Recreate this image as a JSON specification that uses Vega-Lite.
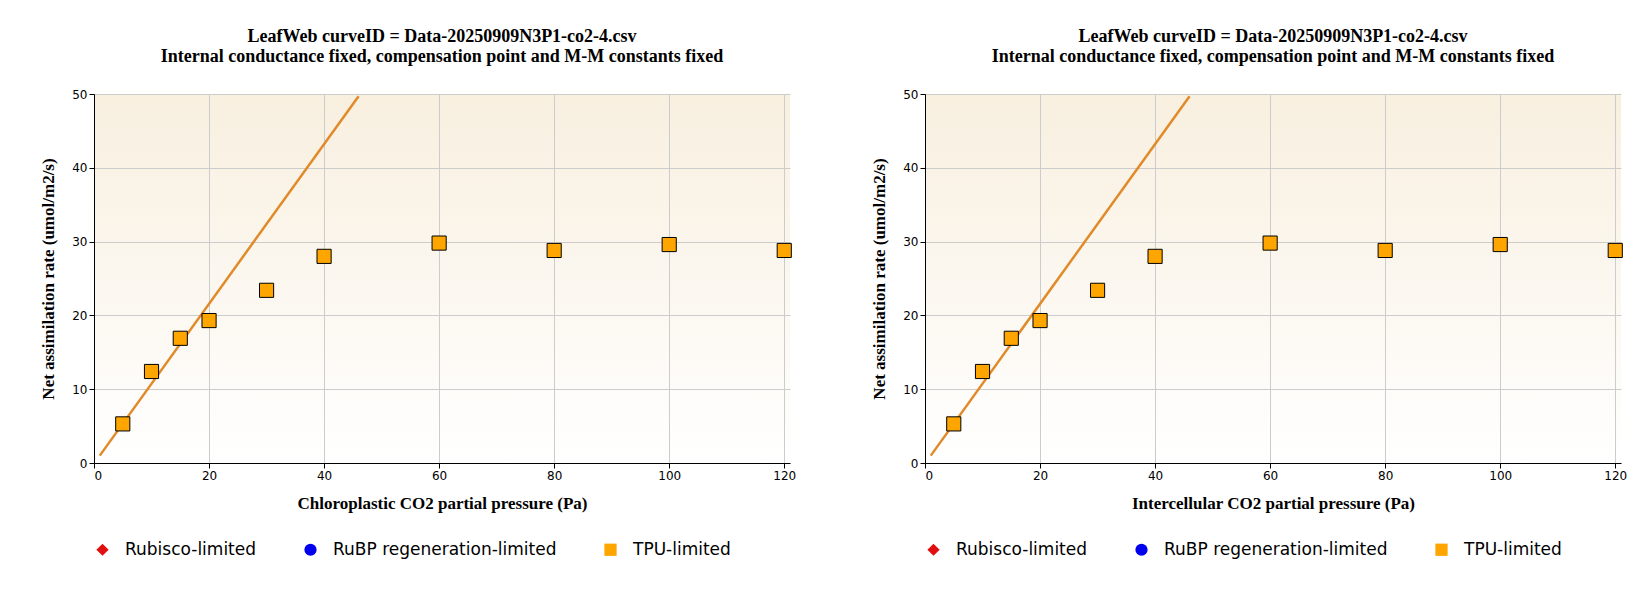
{
  "$schema": "https://vega.github.io/schema/vega-lite/v6.json",
  "padding": {"left": 39, "top": 28, "right": 10, "bottom": 10},
  "background": "white",
  "spacing": 74,
  "datasets": {
    "pts": [
      {"ci": 5, "a": 5.3, "type": "TPU-limited"},
      {"ci": 10, "a": 12.4, "type": "TPU-limited"},
      {"ci": 15, "a": 16.9, "type": "TPU-limited"},
      {"ci": 20, "a": 19.3, "type": "TPU-limited"},
      {"ci": 30, "a": 23.4, "type": "TPU-limited"},
      {"ci": 40, "a": 28.0, "type": "TPU-limited"},
      {"ci": 60, "a": 29.8, "type": "TPU-limited"},
      {"ci": 80, "a": 28.8, "type": "TPU-limited"},
      {"ci": 100, "a": 29.6, "type": "TPU-limited"},
      {"ci": 120, "a": 28.8, "type": "TPU-limited"}
    ],
    "fit": [
      {"ci": 1, "a": 1.0},
      {"ci": 46, "a": 49.7}
    ]
  },
  "config": {
    "font": "Liberation Serif",
    "view": {"stroke": null, "fill": {"gradient": "linear", "x1": 0, "y1": 0, "x2": 0, "y2": 1, "stops": [{"offset": 0, "color": "#f8efdf"}, {"offset": 1, "color": "#ffffff"}]}},
    "title": {"font": "Liberation Serif", "fontSize": 18, "fontWeight": "bold", "color": "#000", "offset": 22},
    "axis": {"labelFont": "DejaVu Sans", "labelFontSize": 12, "labelColor": "#000", "titleFont": "Liberation Serif", "titleFontSize": 17, "titleFontWeight": "bold", "titleColor": "#000", "gridColor": "#cccccc", "domainColor": "#000", "tickColor": "#000"},
    "legend": {"orient": "bottom", "direction": "horizontal", "labelFont": "DejaVu Sans", "labelFontSize": 17, "labelColor": "#000", "symbolSize": 150, "symbolStrokeWidth": 0, "columnPadding": 45, "labelOffset": 14, "offset": 30, "labelLimit": 400}
  },
  "hconcat": [
    {
      "width": 696, "height": 369,
      "title": {"text": ["LeafWeb curveID = Data-20250909N3P1-co2-4.csv", "Internal conductance fixed, compensation point and M-M constants fixed"]},
      "layer": [
        {"data": {"name": "fit"}, "mark": {"type": "line", "color": "#e08a2a", "strokeWidth": 2.5},
         "encoding": {"x": {"field": "ci", "type": "quantitative", "scale": {"domain": [0, 121], "nice": false}, "axis": {"values": [0, 20, 40, 60, 80, 100, 120], "title": "Chloroplastic CO2 partial pressure (Pa)", "titlePadding": 14}},
                      "y": {"field": "a", "type": "quantitative", "scale": {"domain": [0, 50]}, "axis": {"tickCount": 5, "title": "Net assimilation rate (umol/m2/s)", "titlePadding": 14}}}},
        {"data": {"name": "pts"}, "mark": {"type": "point", "filled": true, "stroke": "#000", "strokeWidth": 1, "size": 200, "opacity": 1},
         "encoding": {"x": {"field": "ci", "type": "quantitative"}, "y": {"field": "a", "type": "quantitative"},
                      "shape": {"field": "type", "type": "nominal", "scale": {"domain": ["Rubisco-limited", "RuBP regeneration-limited", "TPU-limited"], "range": ["diamond", "circle", "square"]}, "legend": {"title": null}},
                      "color": {"field": "type", "type": "nominal", "scale": {"domain": ["Rubisco-limited", "RuBP regeneration-limited", "TPU-limited"], "range": ["#e01010", "#0000ee", "#ffa500"]}, "legend": {"title": null}}}}
      ]
    },
    {
      "width": 696, "height": 369,
      "title": {"text": ["LeafWeb curveID = Data-20250909N3P1-co2-4.csv", "Internal conductance fixed, compensation point and M-M constants fixed"]},
      "layer": [
        {"data": {"name": "fit"}, "mark": {"type": "line", "color": "#e08a2a", "strokeWidth": 2.5},
         "encoding": {"x": {"field": "ci", "type": "quantitative", "scale": {"domain": [0, 121], "nice": false}, "axis": {"values": [0, 20, 40, 60, 80, 100, 120], "title": "Intercellular CO2 partial pressure (Pa)", "titlePadding": 14}},
                      "y": {"field": "a", "type": "quantitative", "scale": {"domain": [0, 50]}, "axis": {"tickCount": 5, "title": "Net assimilation rate (umol/m2/s)", "titlePadding": 14}}}},
        {"data": {"name": "pts"}, "mark": {"type": "point", "filled": true, "stroke": "#000", "strokeWidth": 1, "size": 200, "opacity": 1},
         "encoding": {"x": {"field": "ci", "type": "quantitative"}, "y": {"field": "a", "type": "quantitative"},
                      "shape": {"field": "type", "type": "nominal", "scale": {"domain": ["Rubisco-limited", "RuBP regeneration-limited", "TPU-limited"], "range": ["diamond", "circle", "square"]}, "legend": {"title": null}},
                      "color": {"field": "type", "type": "nominal", "scale": {"domain": ["Rubisco-limited", "RuBP regeneration-limited", "TPU-limited"], "range": ["#e01010", "#0000ee", "#ffa500"]}, "legend": {"title": null}}}}
      ]
    }
  ],
  "resolve": {"scale": {"x": "independent", "y": "independent", "shape": "independent", "color": "independent"}, "legend": {"shape": "independent", "color": "independent"}}
}
